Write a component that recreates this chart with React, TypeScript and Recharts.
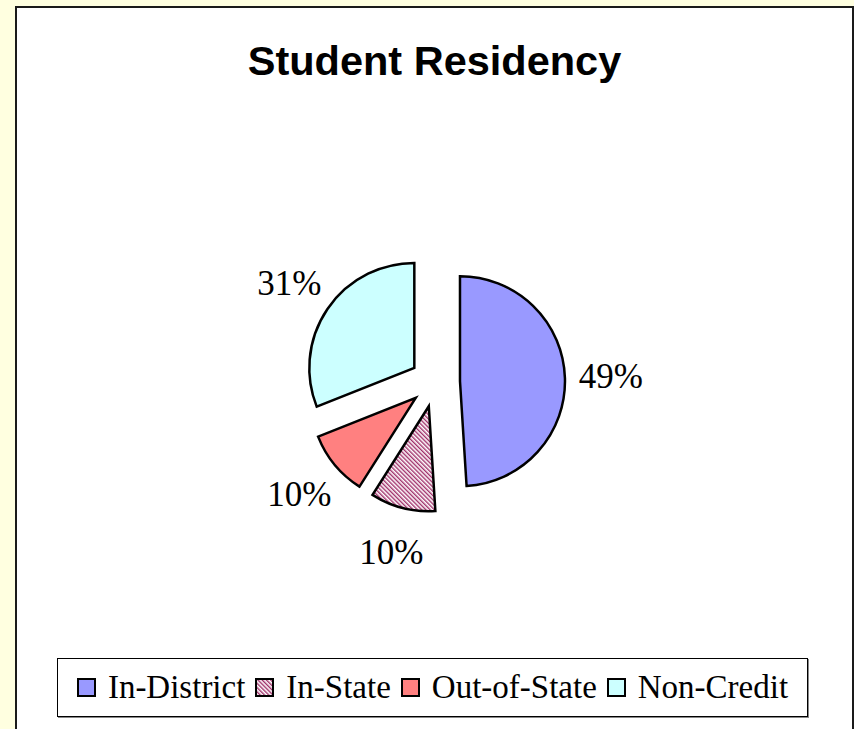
import { PieChart, Pie, Legend, Sector } from 'recharts'

const categories = ['In-District', 'In-State', 'Out-of-State', 'Non-Credit']
const shares = [49, 10, 10, 31]
const fills = ['#9999FF', 'url(#hatchInState)', '#FF8080', '#CCFFFF']

const data = categories.map((name, i) => ({ name, value: shares[i], fill: fills[i] }))

const RAD = Math.PI / 180
const EXPLODE = 25
const SERIF = '"Liberation Serif", "Times New Roman", serif'

// slice pushed out along its mid angle, like Excel's exploded pie
function ExplodedSector(props: any) {
  const { cx, cy, midAngle } = props
  const dx = EXPLODE * Math.cos(-midAngle * RAD)
  const dy = EXPLODE * Math.sin(-midAngle * RAD)
  return <Sector {...props} cx={cx + dx} cy={cy + dy} />
}

function renderLabel({ cx, cy, midAngle, percent }: any) {
  const r = 176
  const x = cx + r * Math.cos(-midAngle * RAD)
  const y = cy + r * Math.sin(-midAngle * RAD)
  return (
    <text
      x={x}
      y={y}
      textAnchor="middle"
      dominantBaseline="central"
      fontFamily={SERIF}
      fontSize={35}
      fill="#000"
    >
      {Math.round(percent * 100)}%
    </text>
  )
}

function LegendBox({ payload }: any) {
  const items = [...(payload || [])].sort(
    (a: any, b: any) => categories.indexOf(a.value) - categories.indexOf(b.value)
  )
  return (
    <div
      style={{
        display: 'flex',
        alignItems: 'center',
        justifyContent: 'center',
        height: '100%',
        fontFamily: SERIF,
        fontSize: 33,
        color: '#000',
      }}
    >
      {items.map((entry: any, i: number) => (
        <span key={entry.value} style={{ display: 'flex', alignItems: 'center', marginLeft: i ? 10 : 0 }}>
          <svg width={19} height={19} style={{ display: 'block' }}>
            <rect
              x={1}
              y={1}
              width={17}
              height={17}
              fill={entry.payload?.fill ?? entry.color}
              stroke="#000"
              strokeWidth={2}
            />
          </svg>
          <span style={{ marginLeft: 12, lineHeight: 1 }}>{entry.value}</span>
        </span>
      ))}
    </div>
  )
}

export default function App() {
  return (
    <div
      style={{
        position: 'fixed',
        left: 0,
        top: 0,
        width: 854,
        height: 729,
        background: '#FFFFE0',
        overflow: 'hidden',
      }}
    >
      <svg width={0} height={0} style={{ position: 'absolute' }}>
        <defs>
          <pattern
            id="hatchInState"
            width={3}
            height={3}
            patternUnits="userSpaceOnUse"
            patternTransform="rotate(-45)"
          >
            <rect width={3} height={3} fill="#fff" />
            <line x1={0.7} y1={0} x2={0.7} y2={3} stroke="#A0306A" strokeWidth={1.4} />
          </pattern>
        </defs>
      </svg>

      <div
        style={{
          position: 'absolute',
          left: 15,
          top: 6,
          width: 835,
          height: 760,
          border: '2px solid #1a1a1a',
          background: '#fff',
        }}
      />

      <div
        style={{
          position: 'absolute',
          left: 17,
          top: 41,
          width: 835,
          textAlign: 'center',
          fontFamily: '"Liberation Sans", Arial, sans-serif',
          fontWeight: 'bold',
          fontSize: 41.5,
          lineHeight: '40px',
          color: '#000',
        }}
      >
        Student Residency
      </div>

      <div style={{ position: 'absolute', left: 0, top: 0 }}>
        <PieChart width={854} height={729} margin={{ top: 0, right: 0, bottom: 0, left: 0 }}>
          <Pie
            data={data}
            dataKey="value"
            nameKey="name"
            cx={435}
            cy={382}
            outerRadius={105}
            startAngle={90}
            endAngle={-270}
            stroke="#000"
            strokeWidth={2.5}
            shape={ExplodedSector}
            label={renderLabel}
            labelLine={false}
            isAnimationActive={false}
          />
          <Legend
            content={<LegendBox />}
            wrapperStyle={{
              position: 'absolute',
              left: 57,
              top: 658,
              width: 751,
              height: 59,
              border: '1px solid #000',
              boxShadow: '1px 1px 0 #888',
              background: '#fff',
              boxSizing: 'border-box',
            }}
          />
        </PieChart>
      </div>
    </div>
  )
}
